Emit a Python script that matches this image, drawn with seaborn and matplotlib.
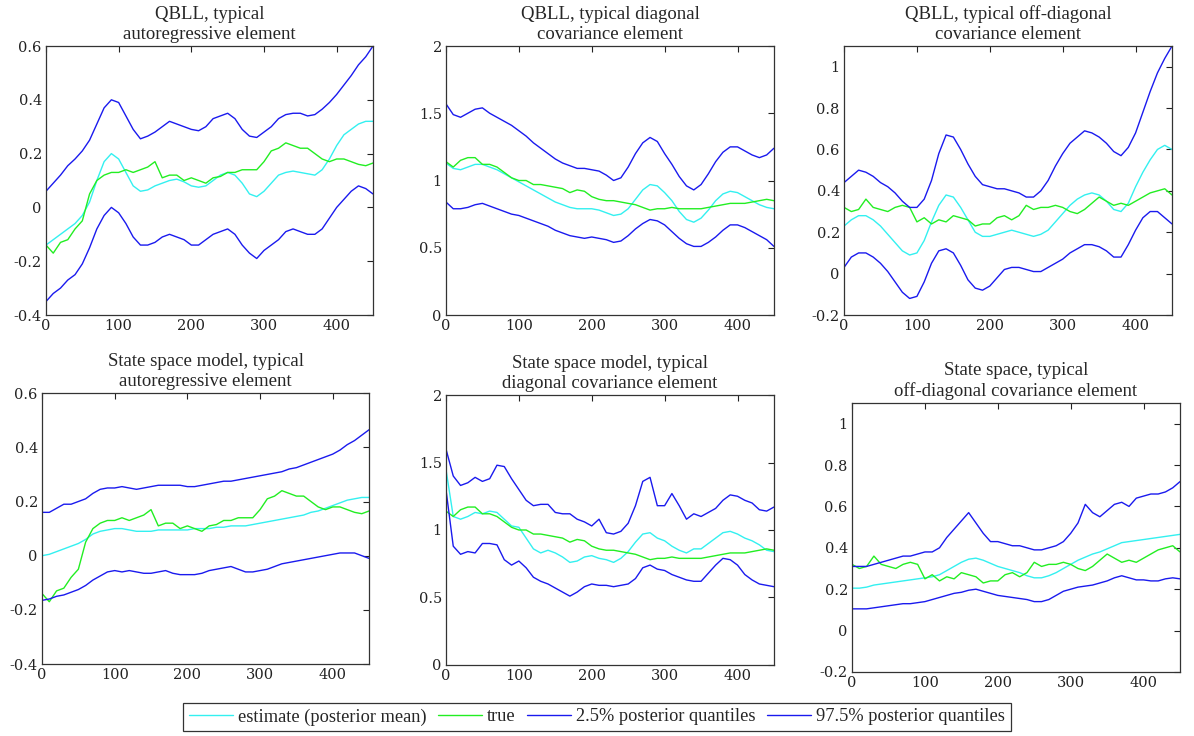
import matplotlib
matplotlib.use("Agg")
import matplotlib.pyplot as plt
import seaborn as sns
import pandas as pd

sns.set_theme(style="white")
plt.rcParams['font.family'] = ['Liberation Serif', 'DejaVu Serif']

# time grid (observation index)
t = list(range(0, 451, 10))

# ---- true series (shared by QBLL and state-space rows) ----
true_ar = [-0.14, -0.17, -0.13, -0.12, -0.08, -0.05, 0.05, 0.10, 0.12, 0.13,
           0.13, 0.14, 0.13, 0.14, 0.15, 0.17, 0.11, 0.12, 0.12, 0.10,
           0.11, 0.10, 0.09, 0.11, 0.115, 0.13, 0.13, 0.14, 0.14, 0.14,
           0.17, 0.21, 0.22, 0.24, 0.23, 0.22, 0.22, 0.20, 0.18, 0.17,
           0.18, 0.18, 0.17, 0.16, 0.155, 0.165]
true_diag = [1.14, 1.10, 1.15, 1.17, 1.17, 1.12, 1.12, 1.10, 1.06, 1.02,
             1.00, 1.00, 0.97, 0.97, 0.96, 0.95, 0.94, 0.91, 0.93, 0.92,
             0.88, 0.86, 0.85, 0.85, 0.84, 0.83, 0.82, 0.80, 0.78, 0.79,
             0.79, 0.80, 0.79, 0.79, 0.79, 0.79, 0.80, 0.81, 0.82, 0.83,
             0.83, 0.83, 0.84, 0.85, 0.86, 0.85]
true_off = [0.32, 0.30, 0.31, 0.36, 0.32, 0.31, 0.30, 0.32, 0.33, 0.32,
            0.25, 0.27, 0.24, 0.26, 0.25, 0.28, 0.27, 0.26, 0.23, 0.24,
            0.24, 0.27, 0.28, 0.26, 0.28, 0.33, 0.31, 0.32, 0.32, 0.33,
            0.32, 0.30, 0.29, 0.31, 0.34, 0.37, 0.35, 0.33, 0.34, 0.33,
            0.35, 0.37, 0.39, 0.40, 0.41, 0.38]

# ---- QBLL ----
qbll_ar_mean = [-0.14, -0.12, -0.10, -0.08, -0.06, -0.03, 0.02, 0.10, 0.17, 0.20,
                0.18, 0.13, 0.08, 0.06, 0.065, 0.08, 0.09, 0.10, 0.105, 0.095,
                0.08, 0.075, 0.08, 0.10, 0.12, 0.13, 0.12, 0.09, 0.05, 0.04,
                0.06, 0.09, 0.12, 0.13, 0.135, 0.13, 0.125, 0.12, 0.14, 0.18,
                0.23, 0.27, 0.29, 0.31, 0.32, 0.32]
qbll_ar_lo = [-0.35, -0.32, -0.30, -0.27, -0.25, -0.21, -0.15, -0.08, -0.03, 0.00,
              -0.02, -0.06, -0.11, -0.14, -0.14, -0.13, -0.11, -0.10, -0.11, -0.12,
              -0.14, -0.14, -0.12, -0.10, -0.09, -0.08, -0.10, -0.14, -0.17, -0.19,
              -0.16, -0.14, -0.12, -0.09, -0.08, -0.09, -0.10, -0.10, -0.08, -0.04,
              0.00, 0.03, 0.06, 0.08, 0.07, 0.05]
qbll_ar_hi = [0.06, 0.09, 0.12, 0.155, 0.18, 0.21, 0.25, 0.31, 0.37, 0.40,
              0.39, 0.34, 0.29, 0.255, 0.265, 0.28, 0.30, 0.32, 0.31, 0.30,
              0.29, 0.285, 0.30, 0.33, 0.34, 0.35, 0.33, 0.29, 0.265, 0.26,
              0.28, 0.30, 0.33, 0.345, 0.35, 0.35, 0.34, 0.345, 0.365, 0.39,
              0.42, 0.455, 0.49, 0.53, 0.56, 0.60]

qbll_diag_mean = [1.13, 1.09, 1.08, 1.10, 1.12, 1.12, 1.10, 1.08, 1.05, 1.02,
                  0.99, 0.96, 0.93, 0.90, 0.87, 0.84, 0.82, 0.80, 0.79, 0.79,
                  0.79, 0.78, 0.76, 0.74, 0.75, 0.79, 0.86, 0.93, 0.97, 0.96,
                  0.91, 0.85, 0.77, 0.71, 0.69, 0.72, 0.78, 0.85, 0.90, 0.92,
                  0.91, 0.88, 0.85, 0.82, 0.80, 0.79]
qbll_diag_lo = [0.84, 0.79, 0.79, 0.80, 0.82, 0.83, 0.81, 0.79, 0.77, 0.75,
                0.74, 0.72, 0.70, 0.68, 0.66, 0.63, 0.61, 0.59, 0.58, 0.57,
                0.58, 0.57, 0.56, 0.54, 0.55, 0.59, 0.64, 0.68, 0.71, 0.70,
                0.67, 0.62, 0.57, 0.53, 0.51, 0.51, 0.54, 0.58, 0.63, 0.67,
                0.67, 0.65, 0.62, 0.59, 0.56, 0.51]
qbll_diag_hi = [1.57, 1.49, 1.47, 1.50, 1.53, 1.54, 1.50, 1.47, 1.44, 1.41,
                1.37, 1.33, 1.28, 1.24, 1.20, 1.16, 1.13, 1.11, 1.09, 1.09,
                1.08, 1.07, 1.04, 1.00, 1.02, 1.10, 1.20, 1.28, 1.32, 1.29,
                1.20, 1.12, 1.03, 0.96, 0.93, 0.97, 1.05, 1.14, 1.21, 1.25,
                1.25, 1.22, 1.19, 1.17, 1.19, 1.24]

qbll_off_mean = [0.23, 0.26, 0.28, 0.28, 0.26, 0.23, 0.19, 0.15, 0.11, 0.09,
                 0.10, 0.16, 0.25, 0.33, 0.38, 0.37, 0.32, 0.26, 0.20, 0.18,
                 0.18, 0.19, 0.20, 0.21, 0.20, 0.19, 0.18, 0.19, 0.21, 0.25,
                 0.29, 0.33, 0.36, 0.38, 0.39, 0.38, 0.35, 0.31, 0.30, 0.34,
                 0.42, 0.49, 0.55, 0.60, 0.62, 0.60]
qbll_off_lo = [0.03, 0.08, 0.10, 0.10, 0.08, 0.05, 0.01, -0.04, -0.09, -0.12,
               -0.11, -0.04, 0.05, 0.11, 0.12, 0.10, 0.04, -0.03, -0.07, -0.08,
               -0.06, -0.02, 0.02, 0.03, 0.03, 0.02, 0.01, 0.01, 0.03, 0.05,
               0.07, 0.10, 0.12, 0.14, 0.14, 0.13, 0.11, 0.08, 0.08, 0.14,
               0.21, 0.27, 0.30, 0.30, 0.27, 0.24]
qbll_off_hi = [0.44, 0.47, 0.50, 0.49, 0.47, 0.44, 0.42, 0.39, 0.35, 0.32,
               0.32, 0.36, 0.45, 0.58, 0.67, 0.66, 0.60, 0.53, 0.47, 0.43,
               0.42, 0.41, 0.41, 0.40, 0.39, 0.37, 0.37, 0.40, 0.45, 0.52,
               0.58, 0.63, 0.66, 0.69, 0.68, 0.66, 0.63, 0.59, 0.57, 0.61,
               0.68, 0.78, 0.88, 0.97, 1.04, 1.10]

# ---- state space model ----
ss_ar_mean = [0.0, 0.005, 0.015, 0.025, 0.035, 0.045, 0.06, 0.08, 0.09, 0.095,
              0.10, 0.10, 0.095, 0.09, 0.09, 0.09, 0.095, 0.095, 0.095, 0.095,
              0.095, 0.10, 0.10, 0.10, 0.105, 0.105, 0.11, 0.11, 0.11, 0.115,
              0.12, 0.125, 0.13, 0.135, 0.14, 0.145, 0.15, 0.16, 0.165, 0.175,
              0.185, 0.195, 0.205, 0.21, 0.215, 0.215]
ss_ar_lo = [-0.165, -0.16, -0.15, -0.145, -0.135, -0.125, -0.11, -0.09, -0.075, -0.06,
            -0.055, -0.06, -0.055, -0.06, -0.065, -0.065, -0.06, -0.055, -0.065, -0.07,
            -0.07, -0.07, -0.065, -0.055, -0.05, -0.045, -0.04, -0.05, -0.06, -0.06,
            -0.055, -0.05, -0.04, -0.03, -0.025, -0.02, -0.015, -0.01, -0.005, 0.0,
            0.005, 0.01, 0.01, 0.01, 0.0, -0.01]
ss_ar_hi = [0.16, 0.16, 0.175, 0.19, 0.19, 0.20, 0.21, 0.23, 0.245, 0.25,
            0.25, 0.255, 0.25, 0.245, 0.25, 0.255, 0.26, 0.26, 0.26, 0.26,
            0.255, 0.255, 0.26, 0.265, 0.27, 0.275, 0.275, 0.28, 0.285, 0.29,
            0.295, 0.30, 0.305, 0.31, 0.32, 0.325, 0.335, 0.345, 0.355, 0.365,
            0.375, 0.39, 0.41, 0.425, 0.445, 0.465]

ss_diag_mean = [1.45, 1.10, 1.08, 1.10, 1.13, 1.12, 1.14, 1.13, 1.08, 1.03,
                1.02, 0.94, 0.86, 0.83, 0.85, 0.83, 0.80, 0.76, 0.77, 0.80,
                0.81, 0.79, 0.78, 0.76, 0.79, 0.84, 0.91, 0.97, 0.98, 0.94,
                0.92, 0.88, 0.85, 0.83, 0.86, 0.86, 0.90, 0.94, 0.98, 0.99,
                0.97, 0.94, 0.92, 0.89, 0.85, 0.84]
ss_diag_lo = [1.30, 0.88, 0.82, 0.84, 0.83, 0.90, 0.90, 0.89, 0.78, 0.74,
              0.77, 0.72, 0.65, 0.62, 0.60, 0.57, 0.54, 0.51, 0.54, 0.58,
              0.60, 0.59, 0.59, 0.58, 0.59, 0.60, 0.64, 0.72, 0.74, 0.71,
              0.70, 0.67, 0.65, 0.63, 0.62, 0.62, 0.68, 0.74, 0.79, 0.78,
              0.74, 0.67, 0.63, 0.60, 0.59, 0.58]
ss_diag_hi = [1.60, 1.40, 1.33, 1.35, 1.39, 1.36, 1.38, 1.48, 1.47, 1.38,
              1.30, 1.22, 1.18, 1.19, 1.19, 1.13, 1.12, 1.12, 1.08, 1.06,
              1.03, 1.08, 0.98, 0.97, 0.99, 1.05, 1.18, 1.36, 1.39, 1.18,
              1.18, 1.27, 1.18, 1.08, 1.12, 1.10, 1.13, 1.16, 1.22, 1.26,
              1.25, 1.22, 1.20, 1.15, 1.14, 1.17]

ss_off_mean = [0.205, 0.205, 0.21, 0.22, 0.225, 0.23, 0.235, 0.24, 0.245, 0.25,
               0.255, 0.26, 0.27, 0.29, 0.31, 0.33, 0.345, 0.35, 0.34, 0.325,
               0.31, 0.30, 0.29, 0.28, 0.265, 0.255, 0.255, 0.265, 0.28, 0.30,
               0.32, 0.34, 0.355, 0.37, 0.38, 0.395, 0.41, 0.425, 0.43, 0.435,
               0.44, 0.445, 0.45, 0.455, 0.46, 0.465]
ss_off_lo = [0.105, 0.105, 0.105, 0.11, 0.115, 0.12, 0.125, 0.13, 0.13, 0.135,
             0.14, 0.15, 0.16, 0.17, 0.18, 0.185, 0.195, 0.20, 0.19, 0.18,
             0.17, 0.165, 0.16, 0.155, 0.15, 0.14, 0.14, 0.15, 0.17, 0.19,
             0.20, 0.21, 0.215, 0.22, 0.23, 0.24, 0.255, 0.265, 0.255, 0.245,
             0.245, 0.24, 0.24, 0.25, 0.255, 0.25]
ss_off_hi = [0.31, 0.31, 0.31, 0.32, 0.33, 0.34, 0.35, 0.36, 0.36, 0.37,
             0.38, 0.38, 0.40, 0.45, 0.49, 0.53, 0.57, 0.52, 0.47, 0.43,
             0.43, 0.42, 0.41, 0.41, 0.40, 0.39, 0.39, 0.40, 0.41, 0.43,
             0.47, 0.52, 0.61, 0.57, 0.55, 0.58, 0.61, 0.62, 0.60, 0.64,
             0.65, 0.66, 0.66, 0.67, 0.69, 0.72]

titles = ["QBLL, typical\nautoregressive element",
          "QBLL, typical diagonal\ncovariance element",
          "QBLL, typical off-diagonal\ncovariance element",
          "State space model, typical\nautoregressive element",
          "State space model, typical\ndiagonal covariance element",
          "State space, typical\noff-diagonal covariance element"]
legend_labels = ["estimate (posterior mean)", "true",
                 "2.5% posterior quantiles", "97.5% posterior quantiles"]
x_ticks = [0, 100, 200, 300, 400]
ylims = [(-0.4, 0.6), (0, 2), (-0.2, 1.1)]
yticks = [[-0.4, -0.2, 0, 0.2, 0.4, 0.6], [0, 0.5, 1, 1.5, 2],
          [-0.2, 0, 0.2, 0.4, 0.6, 0.8, 1]]
ytick_labels = [["-0.4", "-0.2", "0", "0.2", "0.4", "0.6"],
                ["0", "0.5", "1", "1.5", "2"],
                ["-0.2", "0", "0.2", "0.4", "0.6", "0.8", "1"]]

panels = [
    (qbll_ar_mean, true_ar, qbll_ar_lo, qbll_ar_hi),
    (qbll_diag_mean, true_diag, qbll_diag_lo, qbll_diag_hi),
    (qbll_off_mean, true_off, qbll_off_lo, qbll_off_hi),
    (ss_ar_mean, true_ar, ss_ar_lo, ss_ar_hi),
    (ss_diag_mean, true_diag, ss_diag_lo, ss_diag_hi),
    (ss_off_mean, true_off, ss_off_lo, ss_off_hi),
]
colors = ["#33f0f0", "#22ee22", "#1a1aee", "#1a1aee"]

positions = [
    [0.0385, 0.572, 0.2739, 0.3655],
    [0.3735, 0.572, 0.2747, 0.3655],
    [0.7069, 0.572, 0.2747, 0.3655],
    [0.0352, 0.0978, 0.2739, 0.368],
    [0.3735, 0.0965, 0.2747, 0.3668],
    [0.7136, 0.0870, 0.2747, 0.3655],
]

fig = plt.figure(figsize=(11.94, 7.36), dpi=100)
handles = []
for i, (series, pos) in enumerate(zip(panels, positions)):
    ax = fig.add_axes(pos)
    for j, (vals, col, lab) in enumerate(zip(series, colors, legend_labels)):
        df = pd.DataFrame({"t": t, "v": vals})
        sns.lineplot(data=df, x="t", y="v", ax=ax, color=col, lw=1.0,
                     label=lab, legend=False, estimator=None)
    if i == 0:
        handles = ax.get_lines()[:4]
    col = i % 3
    ax.set_xlim(0, 450)
    ax.set_ylim(*ylims[col])
    ax.set_xticks(x_ticks)
    ax.set_xticklabels([str(v) for v in x_ticks])
    ax.set_yticks(yticks[col])
    ax.set_yticklabels(ytick_labels[col])
    ax.set_xlabel("")
    ax.set_ylabel("")
    ax.tick_params(direction="in", top=True, right=True, length=4,
                   width=0.8, labelsize=10.5, colors="#222222", pad=3)
    for lbl in ax.get_xticklabels() + ax.get_yticklabels():
        lbl.set_family("DejaVu Serif")
    for sp in ax.spines.values():
        sp.set_color("#333333")
        sp.set_linewidth(0.9)
    ax.set_title(titles[i], fontsize=13.5, pad=5, linespacing=1.25)

leg = fig.legend(handles, legend_labels, loc="center",
                 bbox_to_anchor=(0.5, 0.026), ncol=4, fontsize=13.2,
                 frameon=True, fancybox=False, edgecolor="black",
                 handlelength=2.4, handletextpad=0.3, columnspacing=0.6,
                 borderpad=0.3)
leg.get_frame().set_linewidth(0.9)

fig.savefig("out.png", dpi=100)
